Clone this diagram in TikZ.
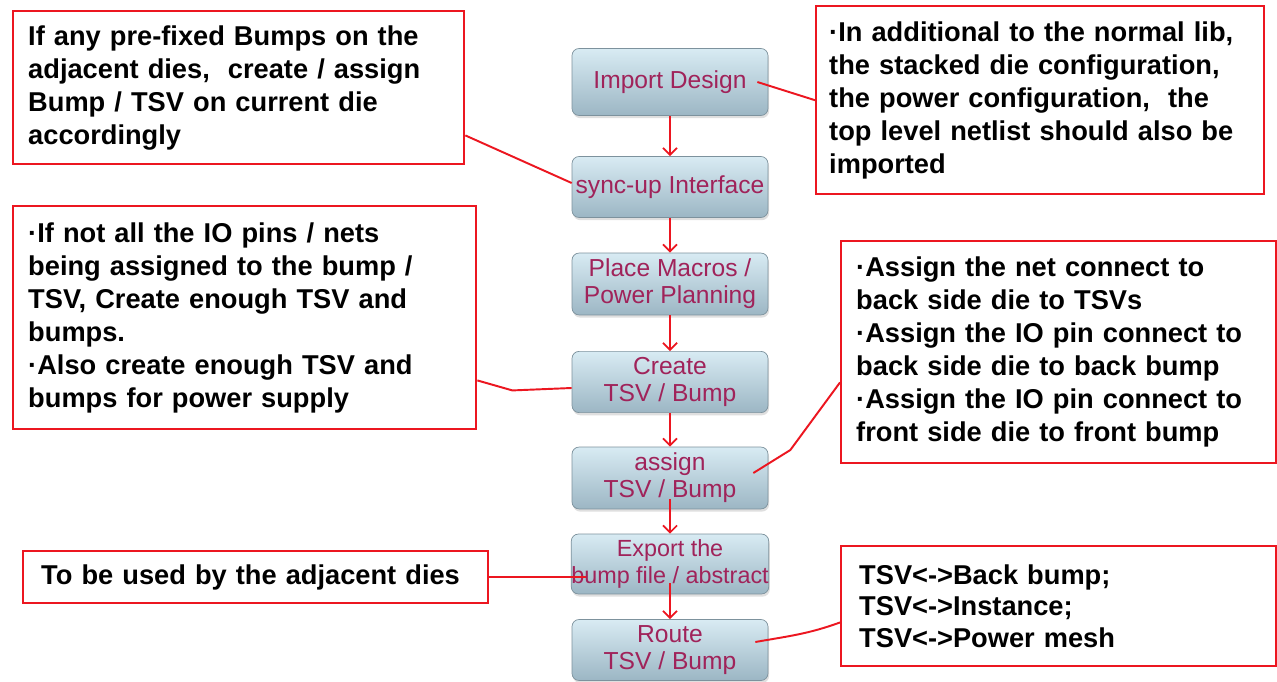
\documentclass[tikz,border=0pt]{standalone}
\usepackage{fontspec}
\setmainfont{Liberation Sans}
\usetikzlibrary{arrows.meta,shadows}

\definecolor{steptext}{RGB}{160,35,90}
\definecolor{steptop}{RGB}{216,235,243}
\definecolor{stepbot}{RGB}{156,182,196}
\definecolor{flowred}{RGB}{236,22,32}

\begin{document}
\begin{tikzpicture}[x=0.02cm, y=-0.02cm, >={Straight Barb[length=4pt,width=8pt]},
	stepbox/.style={draw=stepbot!80!black, line width=0.4pt, rounded corners=4pt, top color=steptop, bottom color=stepbot, drop shadow={opacity=0.25, shadow xshift=0.6pt, shadow yshift=-1.5pt}, minimum width=3.92cm, minimum height=1.22cm, inner xsep=0pt, align=center, text=steptext, font=\fontsize{14}{15.5}\selectfont},
	notebox/.style={draw=flowred, line width=1.4pt, fill=white, anchor=north west, align=left, inner xsep=0.3cm, font=\bfseries\fontsize{15.5}{18.8}\selectfont},
	flow/.style={->, draw=flowred, line width=1pt},
	link/.style={draw=flowred, line width=1.1pt}]

	\fill[white] (0,0) rectangle (1277,682);
	\useasboundingbox (0,0) rectangle (1277,682);

	\node[stepbox, minimum height=1.34cm] (A) at (670,82) {Import Design};
	\node[stepbox] (B) at (670,187) {sync-up Interface};
	\node[stepbox] (C) at (670,284) {Place Macros /\\Power Planning};
	\node[stepbox] (D) at (670,382) {Create\\TSV / Bump};
	\node[stepbox] (E) at (670,478) {assign\\TSV / Bump};
	\node[stepbox, minimum height=1.16cm, font=\fontsize{13.3}{15}\selectfont] (F) at (670,564) {Export the\\bump file / abstract};
	\node[stepbox] (G) at (670,650) {Route\\TSV / Bump};

	\node[notebox, text width=8.42cm, minimum height=3.06cm] (N1) at (12,10) {If any pre-fixed Bumps on the\\adjacent dies,\ \ create / assign\\Bump / TSV on current die\\accordingly};
	\node[notebox, text width=8.44cm, minimum height=3.76cm, inner xsep=0.26cm] (N2) at (815,5) {·In additional to the normal lib,\\the stacked die configuration,\\the power configuration,\ \ the\\top level netlist should also be\\imported};
	\node[notebox, text width=8.66cm, minimum height=4.46cm] (N3) at (12,205) {·If not all the IO pins / nets\\being assigned to the bump /\\TSV, Create enough TSV and\\bumps.\\·Also create enough TSV and\\bumps for power supply};
	\node[notebox, text width=8.1cm, minimum height=4.44cm] (N4) at (840,240) {·Assign the net connect to\\back side die to TSVs\\·Assign the IO pin connect to\\back side die to back bump\\·Assign the IO pin connect to\\front side die to front bump};
	\node[notebox, text width=8.58cm, minimum height=1.04cm, inner xsep=0.36cm] (N5) at (22,550) {To be used by the adjacent dies};
	\node[notebox, text width=7.98cm, minimum height=2.4cm, inner xsep=0.36cm, font=\bfseries\fontsize{15.5}{17.8}\selectfont] (N6) at (840,545) {TSV<->Back bump;\\TSV<->Instance;\\TSV<->Power mesh};

	\draw[flow] (A) -- (B);
	\draw[flow] (B) -- (C);
	\draw[flow] (C) -- (D);
	\draw[flow] (D) -- (E);
	\draw[flow] ([yshift=0.2cm]E.south) -- (F);
	\draw[flow] ([yshift=0.22cm]F.south) -- (G);

	\draw[link] ([yshift=0.6cm]N1.south east) -- ([yshift=0.08cm]B.west);
	\draw[link] ([xshift=-0.22cm]A.east) -- (N2.west);
	\draw[link] ([yshift=1cm]N3.south east) -- ++(35,10) -- ([yshift=-0.12cm]D.west);
	\draw[link] ([xshift=-0.3cm,yshift=0.1cm]E.east) -- ++(37,-23) -- ([yshift=1.64cm]N4.south west);
	\draw[link] (N5.east) -- ([xshift=0.3cm]N5.east -| F.west);
	\draw[link] ([xshift=-0.26cm,yshift=0.16cm]G.east) to[out=10, in=200] ([yshift=0.9cm]N6.south west);
\end{tikzpicture}
\end{document}
